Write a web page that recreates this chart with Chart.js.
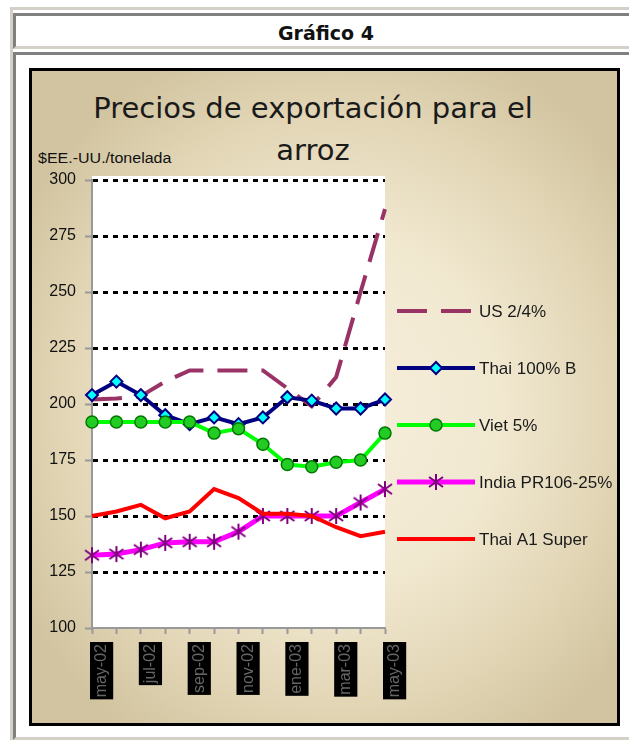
<!DOCTYPE html>
<html>
<head>
<meta charset="utf-8">
<script src="https://cdn.jsdelivr.net/npm/chart.js@4.4.0/dist/chart.umd.min.js"></script>
<style>
  body { margin: 0; background: #ffffff; width: 629px; height: 740px; overflow: hidden; position: relative; font-family: "Liberation Sans", Arial, sans-serif; }
  .frame { position: absolute; left: 10px; top: 7px; width: 640px; height: 760px; border-left: 3px solid #d4d0c8; border-top: 3px solid #d4d0c8; }
  .head { position: absolute; left: 13px; top: 13px; width: 640px; height: 30px; border-left: 3px solid #808080; border-top: 3px solid #808080; border-bottom: 3px solid #d4d0c8; }
  .head span { position: absolute; left: 0; width: 620px; top: 6px; text-align: center; font: bold 19px "DejaVu Sans", sans-serif; color: #111; }
  .body { position: absolute; left: 13px; top: 52px; width: 640px; height: 682px; border-left: 3px solid #808080; border-top: 3px solid #808080; border-bottom: 3px solid #d4d0c8; }
  .panel { position: absolute; left: 29px; top: 68px; width: 585px; height: 652px; border: 3px solid #000;
           background: radial-gradient(ellipse 62% 60% at 52% 52%, #f6efdc 0%, #f1e8d0 45%, #e2d6b6 75%, #d2c4a0 100%); }
  .title { position: absolute; left: 0; width: 626px; text-align: center; font: 29px "DejaVu Sans", sans-serif; color: #1a1a1a; }
  .ylab { position: absolute; left: 38px; top: 150px; font: 16px "Liberation Sans", Arial, sans-serif; color: #111; transform: scaleY(0.9); transform-origin: left top; }
  canvas { position: absolute; left: 0; top: 0; }
</style>
</head>
<body>
<div class="frame"></div>
<div class="head"><span>Gráfico 4</span></div>
<div class="body"></div>
<div class="panel"></div>
<div class="title" style="top:91px">Precios de exportación para el</div>
<div class="title" style="top:133px">arroz</div>
<div class="ylab">$EE.-UU./tonelada</div>
<canvas id="grafico" width="629" height="740"></canvas>
<script>
// meses (mayo 2002 - mayo 2003)
const meses = ['may-02', 'jun-02', 'jul-02', 'ago-02', 'sep-02', 'oct-02', 'nov-02',
               'dic-02', 'ene-03', 'feb-03', 'mar-03', 'abr-03', 'may-03'];
const us24 = [202, 202.5, 203.5, 210, 215, 215, 215, 215, 207, 199, 212, 250, 287];
const thai100B = [204, 210, 204, 195, 191, 194, 191, 194, 203, 201.5, 198, 198, 202];
const viet5 = [192, 192, 192, 192, 192, 187, 189, 182, 173, 172, 174, 175, 187];
const indiaPR106 = [132.5, 133, 135, 138, 138.5, 138.5, 143, 150, 150, 150, 150, 156, 162];
const thaiA1 = [150, 152, 155, 149, 152, 162, 158, 151, 151, 150, 145, 141, 143];
const yTicks = [100, 125, 150, 175, 200, 225, 250, 275, 300];

// marcador asterisco (como el de Excel): vertical + dos diagonales
function asterisco(color) {
    const c = document.createElement('canvas');
    c.width = 18; c.height = 18;
    const g = c.getContext('2d');
    g.strokeStyle = color;
    g.lineWidth = 2;
    g.beginPath();
    g.moveTo(9, 1); g.lineTo(9, 17);
    g.moveTo(2, 4); g.lineTo(16, 14);
    g.moveTo(16, 4); g.lineTo(2, 14);
    g.stroke();
    return c;
}
const estrella = asterisco('#800080');

// fondo blanco del area de trazado
const fondoBlanco = {
    id: 'fondoBlanco',
    beforeDraw(chart) {
        const a = chart.chartArea;
        const ctx = chart.ctx;
        ctx.save();
        ctx.fillStyle = '#ffffff';
        ctx.fillRect(a.left, a.top - 4, a.right - a.left, a.bottom - a.top + 4);
        ctx.restore();
    }
};

// leyenda a la derecha, con linea larga y marcador al centro
const leyenda = {
    id: 'leyenda',
    afterDraw(chart) {
        const ctx = chart.ctx;
        const a = chart.chartArea;
        const x0 = a.right + 12, x1 = a.right + 90;
        chart.data.datasets.forEach((ds, i) => {
            const y = 311 + i * 57;
            ctx.save();
            ctx.strokeStyle = ds.borderColor;
            ctx.lineWidth = ds.borderWidth;
            ctx.setLineDash(ds.borderDash || []);
            ctx.beginPath();
            ctx.moveTo(x0, y);
            ctx.lineTo(x1, y);
            ctx.stroke();
            ctx.setLineDash([]);
            if (ds.pointRadius > 0) {
                ctx.fillStyle = ds.pointBackgroundColor;
                ctx.strokeStyle = ds.pointBorderColor;
                ctx.lineWidth = ds.pointBorderWidth;
                Chart.helpers.drawPoint(ctx, {
                    pointStyle: ds.pointStyle, radius: ds.pointRadius,
                    borderWidth: ds.pointBorderWidth, rotation: 0
                }, (x0 + x1) / 2, y);
            }
            ctx.fillStyle = '#1a1a1a';
            ctx.font = '17px "Liberation Sans", Arial, sans-serif';
            ctx.textBaseline = 'middle';
            ctx.fillText(ds.label, x1 + 4, y + 1);
            ctx.restore();
        });
    }
};

const ctx = document.getElementById('grafico').getContext('2d');
new Chart(ctx, {
    type: 'line',
    data: {
        labels: meses,
        datasets: [{
            label: 'US 2/4%',
            data: us24,
            borderColor: '#993366',
            borderWidth: 4,
            borderDash: [30, 14],
            pointRadius: 0,
            order: 5
        }, {
            label: 'Thai 100% B',
            data: thai100B,
            borderColor: '#000080',
            borderWidth: 4,
            pointStyle: 'rectRot',
            pointRadius: 6,
            pointBackgroundColor: '#00ffff',
            pointBorderColor: '#000080',
            pointBorderWidth: 2,
            order: 4
        }, {
            label: 'Viet 5%',
            data: viet5,
            borderColor: '#00ff00',
            borderWidth: 4,
            pointStyle: 'circle',
            pointRadius: 6,
            pointBackgroundColor: '#22cc22',
            pointBorderColor: '#007700',
            pointBorderWidth: 1.5,
            order: 3
        }, {
            label: 'India PR106-25%',
            data: indiaPR106,
            borderColor: '#ff00ff',
            borderWidth: 5,
            pointStyle: estrella,
            pointRadius: 8,
            pointBackgroundColor: '#800080',
            pointBorderColor: '#800080',
            pointBorderWidth: 2,
            order: 2
        }, {
            label: 'Thai A1 Super',
            data: thaiA1,
            borderColor: '#ff0000',
            borderWidth: 4,
            pointRadius: 0,
            order: 1
        }]
    },
    options: {
        responsive: false,
        animation: false,
        layout: { padding: { left: 40, right: 244, top: 180, bottom: 32 } },
        elements: { line: { tension: 0, fill: false } },
        plugins: {
            legend: { display: false },
            tooltip: { enabled: false }
        },
        scales: {
            x: {
                grid: { drawOnChartArea: false, drawTicks: true, tickLength: 6, tickColor: '#999999', tickWidth: 2 },
                border: { color: '#999999', width: 2 },
                afterFit: (scale) => { scale.height = 80; },
                ticks: {
                    autoSkip: false,
                    maxRotation: 90,
                    minRotation: 90,
                    padding: 10,
                    color: '#666666',
                    font: { family: '"Liberation Sans", Arial, sans-serif', size: 16 },
                    showLabelBackdrop: (c) => c.index % 2 === 0,
                    backdropColor: '#000000',
                    backdropPadding: 2,
                    callback: (v, i) => (i % 2 === 0 ? meses[i] : '')
                }
            },
            y: {
                min: yTicks[0],
                max: yTicks[yTicks.length - 1],
                afterBuildTicks: (scale) => { scale.ticks = yTicks.map(v => ({ value: v })); },
                afterFit: (scale) => { scale.width = 52; },
                grid: {
                    color: (c) => (c.tick && c.tick.value === yTicks[0] ? 'rgba(0,0,0,0)' : '#000000'),
                    lineWidth: 3,
                    tickColor: '#999999',
                    tickWidth: 2,
                    tickLength: 7
                },
                border: { color: '#999999', width: 2, dash: [5, 5] },
                ticks: {
                    padding: 9,
                    color: '#111111',
                    font: { family: '"Liberation Sans", Arial, sans-serif', size: 16 }
                }
            }
        }
    },
    plugins: [fondoBlanco, leyenda]
});
</script>
</body>
</html>
